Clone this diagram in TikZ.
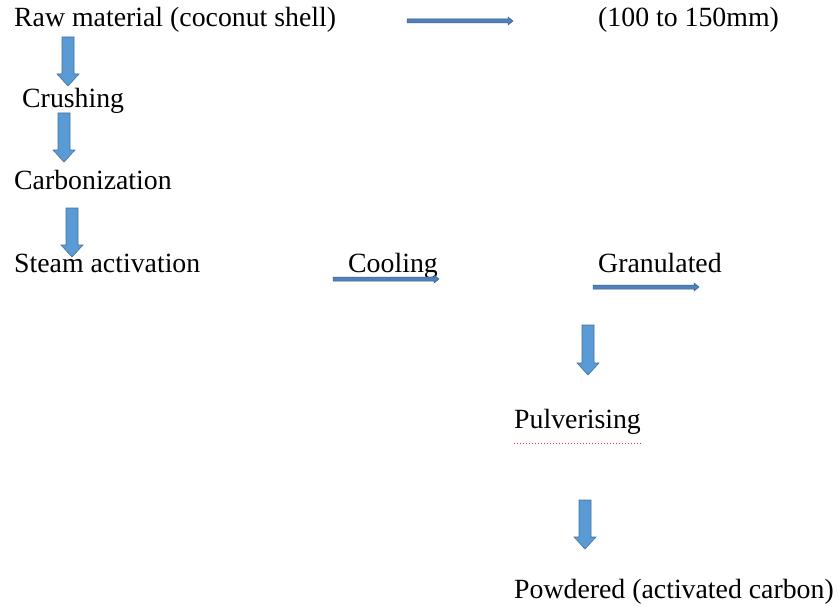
\documentclass[tikz,border=0pt]{standalone}
\usepackage{fontspec}
\setmainfont{Liberation Serif}
\newfontfamily\stagefont{Liberation Serif}
\usepackage{xcolor}
\usepackage{tikz}
\usetikzlibrary{calc}

\definecolor{arrowfill}{HTML}{5B9BD5}
\definecolor{arrowline}{HTML}{41719C}
\definecolor{thinfill}{HTML}{4F81BD}
\definecolor{thinline}{HTML}{385D8A}
\definecolor{spellred}{HTML}{E03030}

\begin{document}
\begin{tikzpicture}[x=1pt, y=-1pt,
  stage/.style={anchor=base west,inner sep=0pt,font=\stagefont\fontsize{27.8}{31}\selectfont},
  downarrow/.style={fill=arrowfill,draw=arrowline,line width=0.6pt,
    to path={let \p1=(\tikztostart), \p2=(\tikztotarget) in
      (\x1-6pt,\y1) -- (\x1+6pt,\y1) -- (\x1+6pt,\y2+12pt) -- (\x1+11pt,\y2+12pt)
      -- (\x2,\y2) -- (\x1-11pt,\y2+12pt) -- (\x1-6pt,\y2+12pt) -- cycle}},
  rightarrow/.style={fill=thinfill,draw=thinline,line width=0.5pt,
    to path={let \p1=(\tikztostart), \p2=(\tikztotarget) in
      (\x1,\y1+2pt) -- (\x2-5pt,\y1+2pt) -- (\x2-5pt,\y1+4pt) -- (\x2,\y1)
      -- (\x2-5pt,\y1-4pt) -- (\x2-5pt,\y1-2pt) -- (\x1,\y1-2pt) -- cycle}}]
\useasboundingbox (0,0) rectangle (840,607);

% stages
\node[stage] (raw) at (14,27) {Raw material (coconut shell)};
\node[stage] (size) at (598,27) {(100 to 150mm)};
\node[stage] (crush) at (22,108) {Crushing};
\node[stage] (carb) at (14,189) {Carbonization};
\node[stage] (steam) at (14,272) {Steam activation};
\node[stage] (cool) at (348,272) {Cooling};
\node[stage] (gran) at (598,272) {Granulated};
\node[stage] (pulv) at (514,428) {Pulverising};
\node[stage] (powd) at (514,598) {Powdered (activated carbon)};

% arrow ends
\coordinate (d1a) at (68,37);  \coordinate (d1b) at (68,86);
\coordinate (d2a) at (64,113); \coordinate (d2b) at (64,162);
\coordinate (d3a) at (72,208); \coordinate (d3b) at (72,257);
\coordinate (d4a) at (588,325); \coordinate (d4b) at (588,375);
\coordinate (d5a) at (585,500); \coordinate (d5b) at (585,549);
\coordinate (r1a) at (407,21); \coordinate (r1b) at (513,21);
\coordinate (r2a) at (333,279); \coordinate (r2b) at (439,279);
\coordinate (r3a) at (593,287); \coordinate (r3b) at (699,287);

\draw[downarrow] (d1a) to (d1b);
\draw[downarrow] (d2a) to (d2b);
\draw[downarrow] (d3a) to (d3b);
\draw[downarrow] (d4a) to (d4b);
\draw[downarrow] (d5a) to (d5b);
\draw[rightarrow] (r1a) to (r1b);
\draw[rightarrow] (r2a) to (r2b);
\draw[rightarrow] (r3a) to (r3b);

% spell-check mark
\draw[spellred,line width=1pt,dash pattern=on 1pt off 2pt] ([yshift=-15pt]pulv.base west) -- ([yshift=-15pt]pulv.base east);
\end{tikzpicture}
\end{document}
